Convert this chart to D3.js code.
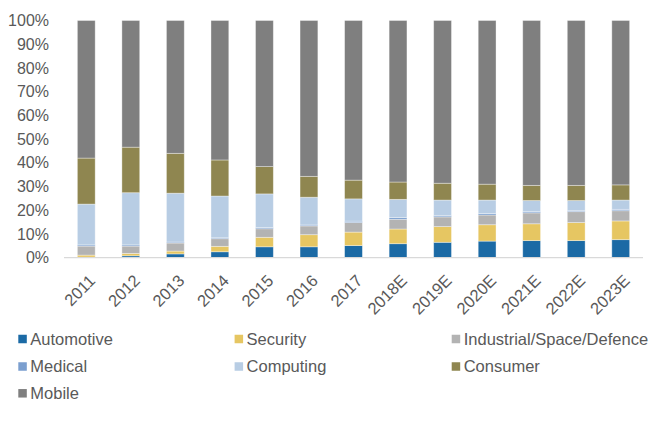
<!DOCTYPE html>
<html>
<head>
<meta charset="utf-8">
<script src="https://cdn.jsdelivr.net/npm/d3@7"></script>
<style>
  body { margin: 0; background: #fff; }
  svg { display: block; font-family: "Liberation Sans", Arial, sans-serif; }
</style>
</head>
<body>
<script>
// Categories (x axis)
let years = ["2011", "2012", "2013", "2014", "2015", "2016", "2017",
    "2018E", "2019E", "2020E", "2021E", "2022E", "2023E"];

// Series shares in % (bottom to top)
let automotive = [0.2, 0.8, 1.6, 2.5, 4.6, 4.6, 5.1, 5.9, 6.5, 7.0, 7.2, 7.2, 7.6];
let security   = [0.9, 1.0, 1.2, 2.3, 4.0, 5.1, 5.7, 6.2, 6.6, 6.9, 7.1, 7.6, 7.9];
let industrial = [3.8, 3.1, 3.4, 3.2, 3.6, 3.7, 4.0, 4.1, 4.1, 4.1, 4.6, 4.6, 4.3];
let medical    = [0.5, 0.5, 0.4, 0.4, 0.5, 0.4, 0.6, 0.7, 0.5, 0.6, 0.5, 0.4, 0.6];
let computing  = [17.2, 22.0, 20.6, 17.6, 14.2, 11.7, 9.4, 7.7, 6.6, 5.7, 4.7, 4.3, 3.9];
let consumer   = [19.4, 19.2, 16.8, 15.2, 11.5, 8.8, 7.9, 7.3, 7.1, 6.7, 6.4, 6.4, 6.4];
let mobile     = [58.0, 53.4, 56.0, 58.8, 61.6, 65.7, 67.3, 68.1, 68.6, 69.0, 69.5, 69.5, 69.3];

let seriesNames = ["Automotive", "Security", "Industrial/Space/Defence", "Medical",
    "Computing", "Consumer", "Mobile"];
let seriesValues = [automotive, security, industrial, medical, computing, consumer, mobile];
let seriesColors = ["#1b6aa5", "#e6c662", "#b3b3b3", "#7b9fcf", "#b8cde4", "#8f8650", "#7f7f7f"];

let yTicks = [0, 10, 20, 30, 40, 50, 60, 70, 80, 90, 100];

// Build rows for the stack
let rows = years.map((y, i) => {
    let r = { year: y };
    seriesNames.forEach((s, j) => r[s] = seriesValues[j][i]);
    return r;
});
let stacked = d3.stack().keys(seriesNames)(rows);

let width = 649, height = 421;
let plot = { left: 64, right: 643, top: 20.5, bottom: 257.7 };

let svg = d3.select("body").append("svg")
    .attr("width", width)
    .attr("height", height);

let x = d3.scaleBand()
    .domain(years)
    .range([plot.left, plot.right])
    .paddingInner(0.6)
    .paddingOuter(0.3);

let y = d3.scaleLinear()
    .domain([0, 100])
    .range([plot.bottom, plot.top]);

let color = d3.scaleOrdinal(seriesNames, seriesColors);

// Bars
svg.append("g")
    .selectAll("g")
    .data(stacked)
    .join("g")
    .attr("fill", d => color(d.key))
    .selectAll("rect")
    .data(d => d)
    .join("rect")
    .attr("x", d => x(d.data.year))
    .attr("width", x.bandwidth())
    .attr("y", d => y(d[1]))
    .attr("height", d => y(d[0]) - y(d[1]))
    .attr("stroke", "rgba(255,255,255,0.45)")
    .attr("stroke-width", 0.8);

// Y axis
let yAxis = svg.append("g")
    .attr("transform", `translate(${plot.left},0)`)
    .call(d3.axisLeft(y).tickValues(yTicks).tickSize(0).tickPadding(15).tickFormat(d => d + "%"));
yAxis.select(".domain").remove();
yAxis.selectAll("text")
    .attr("fill", "#595959")
    .style("font-size", "16px")
    .style("font-family", "'Liberation Sans', Arial, sans-serif");

// X axis
let xAxis = svg.append("g")
    .attr("transform", `translate(0,${plot.bottom})`)
    .call(d3.axisBottom(x).tickSize(0).tickPadding(0));
xAxis.select(".domain")
    .attr("stroke", "#d9d9d9")
    .attr("stroke-width", 1.2)
    .attr("d", `M${plot.left},0H${plot.right}`);
xAxis.selectAll("text")
    .attr("fill", "#595959")
    .style("font-size", "16.5px")
    .style("font-family", "'Liberation Sans', Arial, sans-serif")
    .attr("text-anchor", "end")
    .attr("dy", "0.35em")
    .attr("y", 0)
    .attr("transform", "translate(6,20) rotate(-45)");

// Legend
let legendCols = [18.3, 234.6, 451.7];
let legendRows = [339, 366.5, 393.3];
let legend = svg.append("g")
    .selectAll("g")
    .data(seriesNames)
    .join("g")
    .attr("transform", (d, i) => `translate(${legendCols[i % 3]},${legendRows[Math.floor(i / 3)]})`);

legend.append("rect")
    .attr("x", 0)
    .attr("y", -4.25)
    .attr("width", 8.5)
    .attr("height", 8.5)
    .attr("fill", color);

legend.append("text")
    .attr("x", 12)
    .attr("dy", "0.35em")
    .attr("fill", "#595959")
    .style("font-size", "16.5px")
    .text(d => d);
</script>
</body>
</html>
